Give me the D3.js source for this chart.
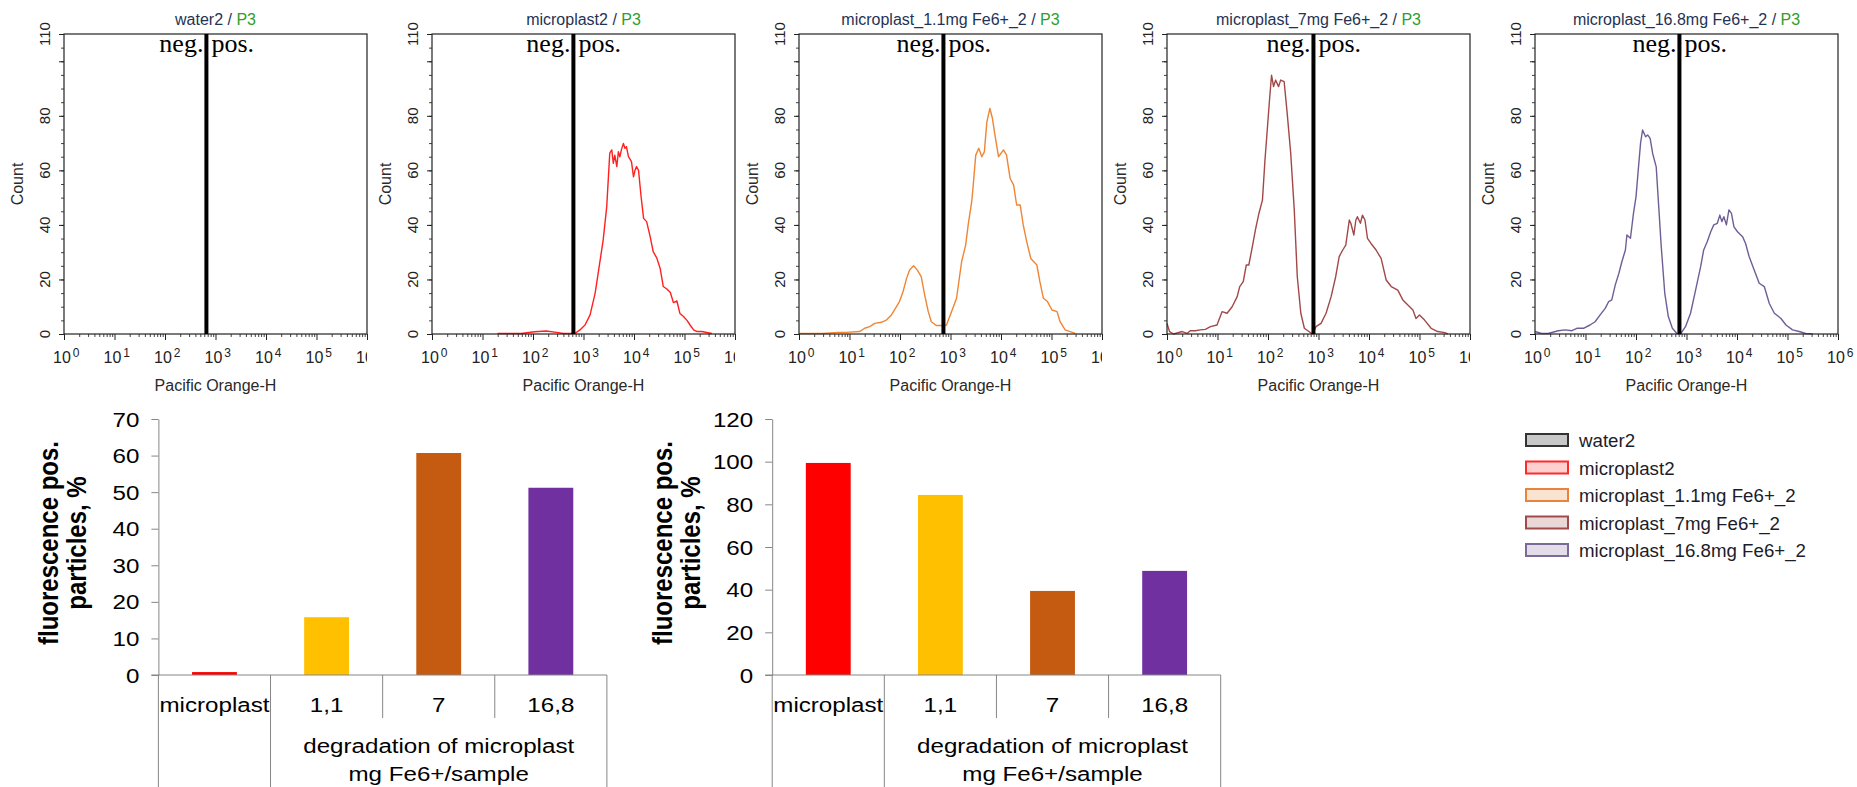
<!DOCTYPE html>
<html>
<head>
<meta charset="utf-8">
<script src="https://cdn.jsdelivr.net/npm/d3@7"></script>
<style>
  body { margin: 0; background: #fff; }
  svg { display: block; }
</style>
</head>
<body>
<div id="chart"></div>
<script>
// ---- data ----

// histogram panels (top row)
const sampleNames = ["water2", "microplast2", "microplast_1.1mg Fe6+_2", "microplast_7mg Fe6+_2", "microplast_16.8mg Fe6+_2"];
const gateName = "P3";
const lineColors = ["#444444", "#ff2020", "#ef8535", "#a34848", "#6f5e96"];
const gateDecades = [2.82, 2.80, 2.86, 2.90, 2.86];   // neg./pos. cut, log10 of Pacific Orange-H
const countTicks = [0, 20, 40, 60, 80, 110];
const decadeTicks = [0, 1, 2, 3, 4, 5, 6];

// [log10 intensity, count]
const histWater2 = [];
const histMicroplast2 = [[1.30,0.2],[1.77,0.2],[2.03,0.8],[2.26,1.1],[2.50,0.5],[2.60,0.2],[2.83,0.2],[2.93,1.5],[3.03,3.3],[3.13,7.0],[3.23,14.9],[3.32,25.9],[3.39,34.5],[3.46,46.7],[3.49,56.5],[3.52,66.3],[3.56,67.5],[3.59,62.6],[3.62,65.6],[3.66,61.4],[3.69,66.8],[3.72,65.0],[3.75,67.5],[3.79,69.9],[3.82,68.1],[3.85,68.7],[3.89,65.0],[3.95,63.2],[3.99,57.6],[4.02,60.0],[4.05,61.4],[4.09,60.0],[4.14,50.4],[4.19,42.4],[4.25,41.2],[4.32,35.7],[4.38,30.2],[4.45,27.9],[4.52,23.9],[4.58,17.4],[4.65,16.5],[4.72,15.2],[4.78,11.5],[4.85,12.1],[4.91,7.5],[4.98,6.4],[5.05,5.0],[5.11,3.3],[5.18,1.5],[5.25,0.9],[5.34,0.9],[5.54,0.2]];
const hist1_1mg = [[0.01,0.2],[0.47,0.2],[0.77,0.6],[0.93,0.6],[1.20,0.9],[1.30,2.1],[1.40,2.7],[1.50,3.9],[1.63,4.3],[1.73,5.1],[1.83,7.0],[1.93,10.0],[1.99,11.9],[2.06,15.5],[2.13,20.4],[2.19,23.5],[2.27,25.0],[2.34,23.5],[2.42,21.0],[2.49,14.2],[2.56,8.2],[2.62,4.5],[2.72,3.1],[2.82,3.1],[2.92,3.3],[3.02,8.2],[3.12,13.1],[3.22,26.5],[3.30,32.6],[3.35,40.0],[3.42,48.5],[3.45,54.6],[3.50,65.6],[3.56,68.1],[3.62,65.0],[3.67,66.8],[3.72,77.8],[3.78,82.7],[3.83,79.1],[3.88,73.0],[3.95,65.0],[4.05,67.5],[4.11,65.6],[4.18,57.1],[4.25,54.6],[4.31,47.3],[4.38,47.3],[4.44,40.0],[4.51,33.8],[4.59,27.7],[4.71,25.3],[4.77,19.2],[4.84,13.1],[4.92,11.9],[5.01,8.8],[5.11,8.2],[5.17,4.5],[5.27,1.5],[5.37,0.9],[5.47,0.2]];
const hist7mg = [[0.00,3.9],[0.05,0.9],[0.13,0.0],[0.30,0.9],[0.40,0.2],[0.46,1.2],[0.56,1.2],[0.66,1.5],[0.76,1.7],[0.86,2.7],[0.99,3.3],[1.09,8.2],[1.19,7.6],[1.29,10.0],[1.39,13.7],[1.44,17.4],[1.51,19.2],[1.57,25.3],[1.62,25.3],[1.69,32.0],[1.75,38.1],[1.82,44.2],[1.89,49.1],[1.94,63.8],[1.99,76.0],[2.03,85.8],[2.07,94.9],[2.11,90.7],[2.15,93.1],[2.21,90.7],[2.25,93.1],[2.32,92.5],[2.38,80.9],[2.45,66.2],[2.52,45.5],[2.58,21.0],[2.65,7.6],[2.72,2.1],[2.81,0.9],[2.88,0.0],[2.95,2.7],[3.05,3.9],[3.15,7.6],[3.25,13.7],[3.34,21.0],[3.41,28.4],[3.48,30.8],[3.54,32.6],[3.61,41.8],[3.64,40.6],[3.70,36.3],[3.74,41.8],[3.77,43.0],[3.83,40.6],[3.87,43.6],[3.92,41.8],[3.97,35.1],[4.04,33.2],[4.14,30.8],[4.24,27.7],[4.34,19.8],[4.44,17.4],[4.57,16.1],[4.67,12.5],[4.77,10.6],[4.87,8.8],[4.93,5.7],[5.00,7.0],[5.10,5.1],[5.23,2.1],[5.36,0.9],[5.50,0.5],[5.56,0.0]];
const hist16_8mg = [[0.00,0.9],[0.13,0.2],[0.26,0.2],[0.46,1.2],[0.60,1.5],[0.73,1.2],[0.83,2.1],[0.96,2.1],[1.09,3.3],[1.19,4.5],[1.29,7.0],[1.39,9.4],[1.46,11.9],[1.52,12.5],[1.59,18.0],[1.66,22.2],[1.72,26.5],[1.79,30.8],[1.82,36.3],[1.89,35.1],[1.95,44.2],[2.00,50.3],[2.05,61.3],[2.09,69.9],[2.13,74.8],[2.19,72.3],[2.23,73.0],[2.28,71.7],[2.33,66.2],[2.40,61.3],[2.45,46.7],[2.50,32.0],[2.57,14.9],[2.64,6.4],[2.72,2.1],[2.81,0.2],[2.88,0.0],[2.98,2.7],[3.08,7.6],[3.18,16.1],[3.28,24.7],[3.34,30.8],[3.41,33.8],[3.48,37.5],[3.54,40.0],[3.61,40.6],[3.66,43.6],[3.70,41.2],[3.74,43.0],[3.79,40.0],[3.84,45.5],[3.89,44.2],[3.94,39.3],[4.01,37.5],[4.11,35.7],[4.17,33.2],[4.24,28.4],[4.34,23.5],[4.44,18.6],[4.54,17.4],[4.64,11.2],[4.74,7.6],[4.87,5.7],[4.97,3.3],[5.10,1.5],[5.23,0.9],[5.36,0.2],[5.50,0.0]];
const histograms = [histWater2, histMicroplast2, hist1_1mg, hist7mg, hist16_8mg];

// legend
const legendFills = ["#c8c8c8", "#ffd0d0", "#fbe3d2", "#ead8d8", "#e2dde9"];
const legendStrokes = ["#333333", "#ff2a2a", "#e8843c", "#a04a4a", "#7a6a9a"];

// bar charts (bottom row)
const barCategories = ["microplast", "1,1", "7", "16,8"];
const barColors = ["#ff0000", "#ffc000", "#c55a11", "#7030a0"];
const barsLeft = [0.8, 15.8, 60.7, 51.2];
const barsRight = [99.4, 84.4, 39.4, 48.8];
const leftTicks = [0, 10, 20, 30, 40, 50, 60, 70];
const rightTicks = [0, 20, 40, 60, 80, 100, 120];

// ---- layout ----
const width = 1857, height = 787;
const svg = d3.select("#chart").append("svg")
  .attr("width", width).attr("height", height)
  .style("font-family", "'Liberation Sans', Arial, sans-serif");

const panelLeft = [64, 432, 799, 1167, 1535];
const plotW = 303, plotTop = 34, plotBottom = 334;

panelLeft.forEach((left, i) => {
  const x = d3.scaleLog().domain([1, 1e6]).range([left, left + plotW]);
  const y = d3.scaleLinear().domain([0, 110]).range([plotBottom, plotTop]);
  const g = svg.append("g");

  // title: sample / gate
  const title = g.append("text")
    .attr("x", left + plotW / 2).attr("y", 25)
    .attr("text-anchor", "middle").attr("font-size", 16);
  title.append("tspan").attr("fill", "#1f3354").text(sampleNames[i] + " / ");
  title.append("tspan").attr("fill", "#2ca02c").text(gateName);

  // y axis ticks
  g.append("g")
    .attr("transform", `translate(${left},0)`)
    .call(d3.axisLeft(y).tickValues(d3.range(0, 111, 5)).tickSize(3).tickFormat(""))
    .call(a => a.select(".domain").remove())
    .call(a => a.selectAll("line").attr("stroke", "#444"));
  g.append("g")
    .attr("transform", `translate(${left},0)`)
    .call(d3.axisLeft(y).tickValues([0, 20, 40, 60, 80, 100, 110]).tickSize(5).tickFormat(""))
    .call(a => a.select(".domain").remove())
    .call(a => a.selectAll("line").attr("stroke", "#222"));

  g.selectAll(".ylab").data(countTicks).enter().append("text")
    .attr("transform", d => `translate(${left - 14},${y(d)}) rotate(-90)`)
    .attr("text-anchor", "middle").attr("font-size", 15).attr("fill", "#222")
    .text(d => d);

  g.append("text")
    .attr("transform", `translate(${left - 41},${(plotTop + plotBottom) / 2}) rotate(-90)`)
    .attr("text-anchor", "middle").attr("font-size", 16).attr("fill", "#2a2a2a")
    .text("Count");

  // x axis ticks (log)
  const minor = [];
  for (let k = 0; k < 6; k++) for (let m = 2; m <= 9; m++) minor.push(m * Math.pow(10, k));
  g.append("g")
    .attr("transform", `translate(0,${plotBottom})`)
    .call(d3.axisBottom(x).tickValues(minor).tickSize(3).tickFormat(""))
    .call(a => a.select(".domain").remove())
    .call(a => a.selectAll("line").attr("stroke", "#444"));
  g.append("g")
    .attr("transform", `translate(0,${plotBottom})`)
    .call(d3.axisBottom(x).tickValues(decadeTicks.map(k => Math.pow(10, k))).tickSize(6).tickFormat(""))
    .call(a => a.select(".domain").remove())
    .call(a => a.selectAll("line").attr("stroke", "#222"));

  // the last decade label is cut at the frame, except on the last panel
  const clipId = "clip" + i;
  svg.append("clipPath").attr("id", clipId).append("rect")
    .attr("x", left - 30).attr("y", 0)
    .attr("width", plotW + 30 + (i === 4 ? 40 : 0)).attr("height", height);
  const xl = g.append("g").attr("clip-path", `url(#${clipId})`);
  decadeTicks.forEach(k => {
    const t = xl.append("text")
      .attr("x", x(Math.pow(10, k)) - 11).attr("y", 363)
      .attr("font-size", 16).attr("fill", "#222");
    t.append("tspan").text("10");
    t.append("tspan").attr("font-size", 12).attr("dx", 2).attr("dy", -6).text(k);
  });

  g.append("text")
    .attr("x", left + plotW / 2).attr("y", 391)
    .attr("text-anchor", "middle").attr("font-size", 16).attr("fill", "#2a2a2a")
    .text("Pacific Orange-H");

  // histogram trace
  const line = d3.line()
    .x(d => x(Math.pow(10, d[0])))
    .y(d => y(d[1]));
  if (histograms[i].length) {
    g.append("path")
      .datum(histograms[i])
      .attr("d", line)
      .attr("fill", "none")
      .attr("stroke", lineColors[i])
      .attr("stroke-width", 1.4)
      .attr("stroke-linejoin", "round");
  }

  // plot frame
  g.append("rect")
    .attr("x", left).attr("y", plotTop)
    .attr("width", plotW).attr("height", plotBottom - plotTop)
    .attr("fill", "none").attr("stroke", "#222").attr("stroke-width", 1.2);

  // gate line + labels
  const gx = x(Math.pow(10, gateDecades[i]));
  g.append("line")
    .attr("x1", gx).attr("x2", gx).attr("y1", plotTop).attr("y2", plotBottom)
    .attr("stroke", "#000").attr("stroke-width", 4);
  g.append("text")
    .attr("x", gx - 3).attr("y", 52).attr("text-anchor", "end")
    .attr("font-family", "'Liberation Serif', 'Times New Roman', serif")
    .attr("font-size", 26).attr("fill", "#000").text("neg.");
  g.append("text")
    .attr("x", gx + 5).attr("y", 52)
    .attr("font-family", "'Liberation Serif', 'Times New Roman', serif")
    .attr("font-size", 26).attr("fill", "#000").text("pos.");
});

// ---- legend ----
const legend = svg.append("g");
sampleNames.forEach((name, i) => {
  const cy = 440 + i * 27.5;
  legend.append("rect")
    .attr("x", 1526).attr("y", cy - 6).attr("width", 42).attr("height", 12)
    .attr("fill", legendFills[i]).attr("stroke", legendStrokes[i]).attr("stroke-width", 2);
  legend.append("text")
    .attr("x", 1579).attr("y", cy + 7)
    .attr("font-size", 18.7).attr("fill", "#1c1c2a")
    .text(name);
});

// ---- bar charts ----
// text in these charts is stretched sideways in the original
const stretch = 1.15;

function wideText(g, x, y, str, anchor) {
  return g.append("text")
    .attr("transform", `translate(${x},${y}) scale(${stretch},1)`)
    .attr("text-anchor", anchor)
    .attr("font-size", 21).attr("fill", "#000")
    .text(str);
}

function drawBars(axisX, maxY, ticks, values) {
  const y0 = 675, yTop = 419, right = axisX + 448.5;
  const g = svg.append("g");
  const y = d3.scaleLinear().domain([0, maxY]).range([y0, yTop]);
  const xb = d3.scaleBand().domain(barCategories).range([axisX, right]).padding(0);
  const bw = xb.bandwidth() * 0.4;

  g.selectAll(".bar").data(values).enter().append("rect")
    .attr("x", (d, i) => xb(barCategories[i]) + (xb.bandwidth() - bw) / 2)
    .attr("y", d => y(d))
    .attr("width", bw)
    .attr("height", d => y0 - y(d))
    .attr("fill", (d, i) => barColors[i]);

  g.append("g")
    .attr("transform", `translate(${axisX},0)`)
    .call(d3.axisLeft(y).tickValues(ticks).tickSize(7).tickFormat("").tickSizeOuter(0))
    .call(a => a.select(".domain").attr("stroke", "#868686"))
    .call(a => a.selectAll("line").attr("stroke", "#868686"));
  ticks.forEach(t => {
    wideText(g, axisX - 19, y(t), t, "end").attr("dy", "0.36em");
  });

  // category axis with separators
  g.append("line")
    .attr("x1", axisX - 7).attr("x2", right).attr("y1", y0).attr("y2", y0)
    .attr("stroke", "#868686");
  const edges = barCategories.map(c => xb(c)).concat([right]);
  edges.forEach((ex, j) => {
    const long = (j === 0 || j === 1 || j === edges.length - 1);
    g.append("line")
      .attr("x1", ex).attr("x2", ex).attr("y1", y0).attr("y2", long ? height : 718)
      .attr("stroke", "#868686");
  });
  barCategories.forEach(c => {
    wideText(g, xb(c) + xb.bandwidth() / 2, 712, c, "middle");
  });
  const gx = (xb(barCategories[1]) + right) / 2;
  wideText(g, gx, 753, "degradation of microplast", "middle");
  wideText(g, gx, 781, "mg Fe6+/sample", "middle");

  // y title, two lines
  g.append("text")
    .attr("transform", `translate(${axisX - 100},543) rotate(-90) scale(1,${stretch})`)
    .attr("text-anchor", "middle").attr("font-size", 24).attr("font-weight", "bold")
    .text("fluorescence pos.");
  g.append("text")
    .attr("transform", `translate(${axisX - 72},543) rotate(-90) scale(1,${stretch})`)
    .attr("text-anchor", "middle").attr("font-size", 24).attr("font-weight", "bold")
    .text("particles, %");
}

drawBars(158.4, 70, leftTicks, barsLeft);
drawBars(772.2, 120, rightTicks, barsRight);
</script>
</body>
</html>
